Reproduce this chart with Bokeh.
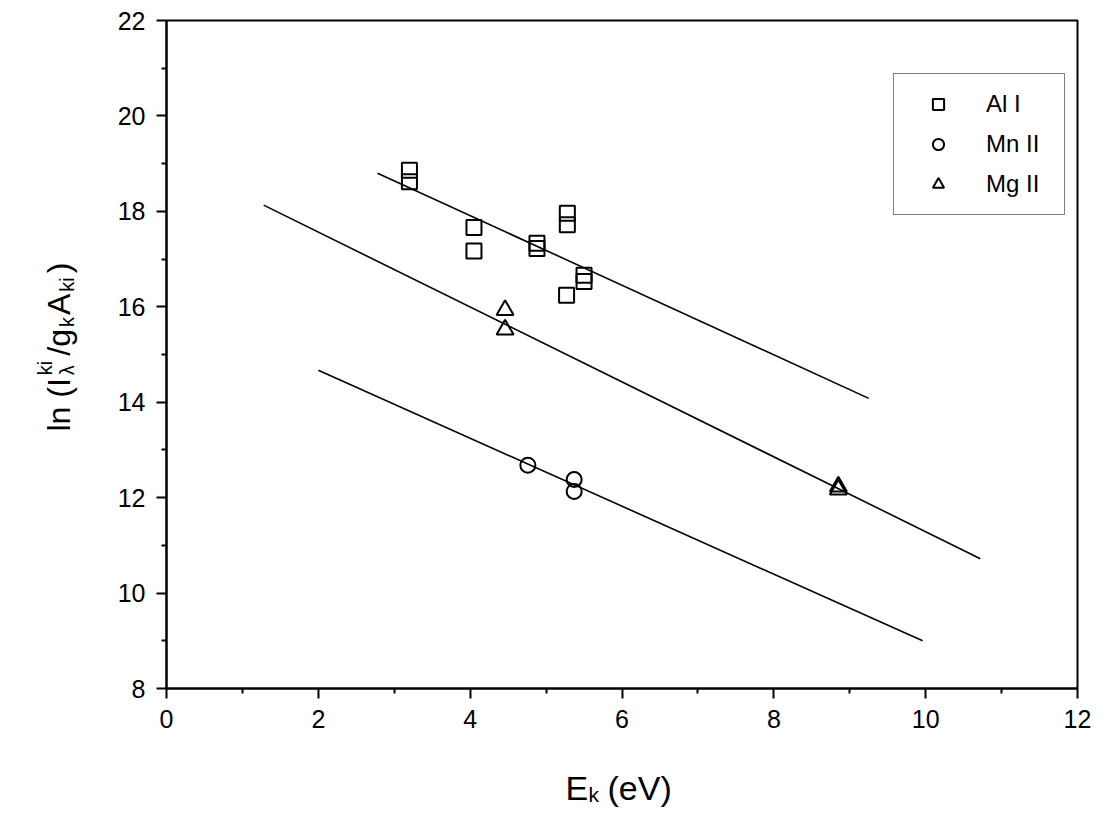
import math
from bokeh.plotting import figure
from bokeh.layouts import row, column
from bokeh.models import (FixedTicker, Legend, LegendItem, Label, Range1d)
from bokeh.embed import file_html
from bokeh.resources import INLINE

# ---- data ----
al_x = [3.2, 3.2, 4.05, 4.05, 4.88, 4.88, 5.28, 5.28, 5.27, 5.5, 5.5]
al_y = [18.86, 18.62, 17.66, 17.17, 17.33, 17.22, 17.96, 17.72, 16.24, 16.66, 16.53]

mn_x = [4.76, 5.37, 5.37]
mn_y = [12.68, 12.38, 12.13]

mg_x = [4.46, 4.46, 8.85, 8.85]
mg_y = [15.93, 15.52, 12.23, 12.17]

fit_al_x = [2.78, 9.25]
fit_al_y = [18.80, 14.08]
fit_mg_x = [1.28, 10.72]
fit_mg_y = [18.13, 10.72]
fit_mn_x = [2.00, 9.96]
fit_mn_y = [14.67, 9.00]

x_ticks = [0, 2, 4, 6, 8, 10, 12]
x_minor = [1, 3, 5, 7, 9, 11]
y_ticks = [8, 10, 12, 14, 16, 18, 20, 22]
y_minor = [9, 11, 13, 15, 17, 19, 21]

series_names = ["Al I", "Mn II", "Mg II"]

FONT = "Liberation Sans"

# ---- layout (page pixels) ----
W, H = 1098, 808
YW = 100                 # strip holding the y-axis title
XH = 68                  # strip holding the x-axis title
MW, MH = W - YW, H - XH  # main figure
BL, BR, BT, BB = 66, 21, 20, 52
FL, FR = YW + BL, W - BR  # frame left/right in page pixels
X0, X1 = 0, 12
Y0, Y1 = 8, 22

p = figure(width=MW, height=MH, output_backend="svg", toolbar_location=None,
           x_range=Range1d(X0, X1), y_range=Range1d(Y0, Y1),
           min_border_left=BL, min_border_right=BR,
           min_border_top=BT, min_border_bottom=BB)
p.background_fill_color = "white"
p.border_fill_color = "white"
p.grid.visible = False
p.outline_line_color = "black"
p.outline_line_width = 2

for ax, tk, mn in ((p.xaxis[0], x_ticks, x_minor), (p.yaxis[0], y_ticks, y_minor)):
    ax.ticker = FixedTicker(ticks=tk, minor_ticks=mn)
    ax.axis_line_color = "black"
    ax.axis_line_width = 2
    ax.major_tick_line_color = "black"
    ax.major_tick_line_width = 2
    ax.minor_tick_line_color = "black"
    ax.minor_tick_line_width = 2
    ax.major_tick_in = 0
    ax.major_tick_out = 10
    ax.minor_tick_in = 0
    ax.minor_tick_out = 5
    ax.major_label_text_font = FONT
    ax.major_label_text_font_size = "25px"
    ax.major_label_text_color = "black"
    ax.major_label_standoff = 11
    ax.axis_label = None

# fit lines
for fx, fy in ((fit_al_x, fit_al_y), (fit_mg_x, fit_mg_y), (fit_mn_x, fit_mn_y)):
    p.line(fx, fy, line_color="black", line_width=1.6)

r_al = p.scatter(al_x, al_y, marker="square", size=15, fill_color=None,
                 line_color="black", line_width=2)
r_mn = p.scatter(mn_x, mn_y, marker="circle", size=15, fill_color=None,
                 line_color="black", line_width=2)
r_mg = p.scatter(mg_x, mg_y, marker="triangle", size=17, fill_color=None,
                 line_color="black", line_width=2)

legend = Legend(items=[LegendItem(label=series_names[0], renderers=[r_al]),
                       LegendItem(label=series_names[1], renderers=[r_mn]),
                       LegendItem(label=series_names[2], renderers=[r_mg])],
                location=(727, 473))
legend.border_line_color = "black"
legend.border_line_width = 1.5
legend.background_fill_color = "white"
legend.background_fill_alpha = 1
legend.label_text_font = FONT
legend.label_text_font_size = "24px"
legend.label_text_color = "black"
legend.padding = 10
legend.spacing = 0
legend.glyph_width = 68
legend.glyph_height = 28
legend.label_height = 40
legend.label_standoff = 14
legend.label_width = 68
legend.margin = 0
p.add_layout(legend)


def strip(width, height, xr, yr):
    f = figure(width=width, height=height, output_backend="svg",
               toolbar_location=None, x_range=xr, y_range=yr,
               x_axis_location=None, y_axis_location=None,
               min_border=0, min_border_left=0, min_border_right=0,
               min_border_top=0, min_border_bottom=0)
    f.grid.visible = False
    f.outline_line_color = None
    f.background_fill_color = "white"
    f.border_fill_color = "white"
    return f


# y-title strip: data units == page pixels (y flipped)
ys = strip(YW, H, Range1d(0, YW), Range1d(H, 0))
# x-title strip: its frame is aligned with the main frame (page FL..FR)
xs = strip(MW, XH, Range1d(FL, FR), Range1d(H, MH))


def piece(fig, text, px, py, size, angle=0.0):
    fig.add_layout(Label(x=px, y=py, text=text, angle=angle,
                         text_font=FONT, text_font_size=f"{size}px",
                         text_color="black", text_align="left",
                         text_baseline="alphabetic"))


# x axis title: E_k (eV)
bx, by = 565, 787
piece(xs, "E", bx, by, 34)
piece(xs, "k", bx + 23, by + 7, 21)
piece(xs, "(eV)", bx + 42, by, 34)

# y axis title: ln (I^ki_λ / g_k A_ki), rotated, reading upwards
F, S = 32, 20
base_x = 58
s = 431
rot = math.pi / 2
piece(ys, "ln (I", base_x, s, F, rot)
s -= 1.667 * F + 3
piece(ys, "ki", base_x - 14, s, S, rot)
piece(ys, "λ", base_x + 8, s, S, rot)
s -= 0.722 * S + 5
piece(ys, "/g", base_x, s, F, rot)
s -= 0.834 * F + 2
piece(ys, "k", base_x + 8, s, S, rot)
s -= 0.5 * S + 2
piece(ys, "A", base_x, s, F, rot)
s -= 0.667 * F + 2
piece(ys, "ki", base_x + 8, s, S, rot)
s -= 0.722 * S + 4
piece(ys, ")", base_x, s, F, rot)

layout = row(ys, column(p, xs))
open("out.html", "w").write(file_html(layout, INLINE))
